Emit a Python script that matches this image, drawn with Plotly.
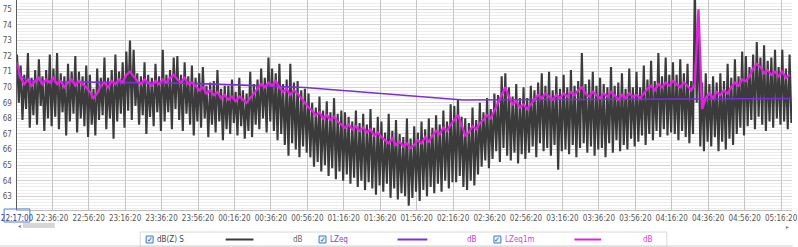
import plotly.graph_objects as go
import pandas as pd

START = pd.Timestamp("2024-01-01 22:17:00")

tick_labels = ["22:17:00", "22:36:20", "22:56:20", "23:16:20", "23:36:20", "23:56:20",
               "00:16:20", "00:36:20", "00:56:20", "01:16:20", "01:36:20", "01:56:20",
               "02:16:20", "02:36:20", "02:56:20", "03:16:20", "03:36:20", "03:56:20",
               "04:16:20", "04:36:20", "04:56:20", "05:16:20"]
y_ticks = list(range(63, 76))

# LZeq1m, one value every 2 minutes from 22:17:00
lzeq1m = [71.6, 70.6, 70.2, 70.5, 70.1, 70.4, 70.6, 70.2, 70.5, 70.3,
          70.6, 70.2, 70.4, 70.0, 70.3, 70.5, 70.1, 70.4, 70.2, 70.0,
          69.7, 69.3, 69.6, 70.1, 70.3, 70.0, 70.4, 70.2, 70.5, 70.3,
          70.8, 71.0, 70.7, 70.4, 70.2, 70.5, 70.3, 70.1, 70.4, 70.2,
          70.5, 70.3, 70.6, 70.8, 70.5, 70.3, 70.6, 70.2, 70.3, 70.1,
          69.8, 70.0, 69.6, 69.8, 69.5, 69.7, 69.3, 69.5, 69.2, 69.4,
          69.1, 69.4, 69.2, 69.0, 69.3, 69.6, 69.9, 70.2, 70.0, 70.3,
          70.1, 70.4, 70.0, 69.7, 69.9, 69.5, 69.8, 69.6, 69.3, 69.0,
          68.7, 68.5, 68.2, 68.4, 68.0, 68.2, 67.9, 68.1, 67.8, 67.6,
          67.4, 67.6, 67.3, 67.5, 67.2, 67.4, 67.1, 67.3, 66.9, 67.1,
          66.8, 66.6, 66.4, 66.7, 66.3, 66.5, 66.2, 66.4, 66.1, 66.3,
          66.6, 66.4, 66.8, 66.5, 66.9, 67.2, 67.0, 67.4, 67.2, 67.6,
          67.9, 68.2, 67.6, 66.9, 67.1, 67.5, 67.3, 67.7, 67.9, 68.2,
          68.0, 68.5, 69.0, 69.6, 70.0, 69.4, 68.9, 69.1, 68.7, 68.9,
          68.6, 68.9, 69.2, 69.5, 69.3, 69.6, 69.4, 69.2, 69.5, 69.3,
          69.6, 69.4, 69.7, 69.5, 69.8, 70.0, 69.6, 69.4, 69.7, 69.5,
          69.3, 69.6, 69.4, 69.7, 69.5, 69.2, 69.5, 69.3, 69.6, 69.4,
          69.5, 69.3, 69.6, 69.9, 70.1, 69.8, 70.2, 70.0, 70.3, 70.1,
          70.4, 70.2, 70.0, 70.3, 70.1, 69.8, 70.2, 75.0, 68.6, 69.3,
          69.6, 69.3, 69.7, 69.5, 69.8, 69.6, 70.0, 70.3, 70.1, 70.5,
          70.4, 70.7, 71.2, 71.5, 71.3, 70.9, 71.1, 70.8, 71.0, 70.7,
          71.0, 70.6, 70.8]

# dB(Z) S: local peaks (even minutes) and troughs (odd minutes)
dbz_peaks = [72.1, 71.4, 70.8, 72.2, 70.6, 71.1, 71.8, 70.7, 71.1, 72.1,
             71.2, 72.2, 70.9, 70.7, 71.5, 71.0, 72.0, 71.0, 70.7, 71.4,
             70.8, 69.9, 71.2, 70.6, 71.9, 70.6, 71.1, 72.1, 71.0, 71.6,
             72.3, 73.0, 72.4, 70.9, 70.7, 71.6, 70.8, 70.6, 71.5, 70.7,
             72.4, 70.8, 71.1, 71.9, 72.0, 70.8, 71.6, 70.7, 71.4, 70.6,
             70.9, 71.3, 70.1, 70.3, 70.4, 71.1, 69.9, 70.1, 70.1, 70.5,
             69.7, 70.6, 69.8, 69.6, 71.0, 70.2, 70.5, 71.2, 70.6, 71.9,
             71.2, 70.9, 71.5, 70.2, 70.5, 71.5, 70.3, 70.4, 69.8, 69.9,
             69.6, 69.0, 68.7, 69.4, 68.5, 69.1, 68.4, 69.3, 68.3, 68.5,
             68.4, 68.1, 67.8, 68.5, 67.7, 68.3, 67.6, 68.6, 67.4, 68.1,
             67.8, 67.1, 68.3, 67.2, 67.9, 67.0, 66.8, 68.0, 66.7, 67.5,
             67.1, 67.8, 67.3, 68.0, 67.4, 68.2, 67.6, 68.5, 67.8, 68.9,
             68.8, 69.2, 68.1, 68.0, 67.7, 68.7, 67.9, 69.0, 68.4, 69.3,
             68.6, 69.6, 69.5, 70.7, 70.9, 70.0, 69.4, 70.2, 69.3, 70.0,
             69.3, 70.1, 69.8, 70.3, 70.9, 70.1, 71.0, 69.8, 70.7, 69.9,
             70.8, 70.0, 71.1, 70.1, 70.4, 72.2, 70.2, 70.5, 71.0, 70.1,
             70.6, 70.2, 70.0, 71.3, 70.1, 70.3, 70.9, 69.9, 71.2, 70.0,
             71.0, 70.0, 71.4, 70.5, 71.7, 70.4, 72.2, 70.7, 71.9, 70.8,
             71.6, 70.8, 71.8, 70.9, 71.5, 70.4, 76.5, 74.0, 70.3, 70.9,
             70.2, 70.7, 70.3, 70.9, 70.4, 71.5, 70.6, 71.8, 70.7, 72.3,
             72.0, 71.3, 72.1, 72.9, 71.9, 72.7, 71.7, 71.9, 72.4, 71.3,
             72.4, 71.2, 72.1]
dbz_troughs = [69.0, 67.9, 68.6, 67.4, 68.2, 67.6, 68.8, 67.2, 68.0, 67.5,
               68.1, 67.3, 68.4, 66.9, 67.8, 68.3, 67.1, 68.0, 67.5, 66.8,
               67.6, 66.9, 67.9, 68.2, 67.3, 68.0, 66.7, 67.8, 68.3, 67.4,
               68.5, 67.9, 68.8, 67.6, 68.2, 67.0, 68.1, 67.5, 68.4, 67.2,
               67.8, 68.4, 67.3, 68.6, 67.9, 67.2, 68.3, 67.6, 66.9, 67.8,
               67.4, 68.0, 66.8, 67.6, 67.1, 67.8, 66.6, 67.3, 67.0, 67.7,
               66.9, 67.5, 66.7, 67.2, 66.8, 67.6, 67.3, 68.0, 67.1, 67.8,
               67.2, 66.6, 67.0, 66.3, 65.6, 66.4, 66.0, 65.5, 66.2, 65.8,
               65.5, 64.9, 65.2, 64.6, 65.0, 64.3, 64.8, 64.1, 64.6, 64.0,
               64.4, 63.8, 64.2, 63.6, 64.0, 63.4, 63.9, 63.5, 63.1, 63.7,
               63.3, 63.8, 62.9, 63.5, 62.8, 63.2, 63.0, 62.4, 62.9, 63.3,
               62.7, 63.4, 63.0, 63.6, 63.2, 63.8, 63.3, 64.0, 63.5, 63.9,
               63.9, 64.3, 63.6, 63.4, 64.0, 63.7, 64.4, 64.9, 65.3, 64.8,
               65.4, 65.9, 65.2, 66.1, 65.6, 65.3, 65.8, 65.1, 65.7, 65.4,
               65.8, 66.2, 65.5, 66.4, 65.9, 66.1, 65.6, 66.3, 64.7, 65.9,
               66.0, 65.7, 66.3, 65.5, 66.1, 66.4, 65.8, 66.2, 65.6, 66.0,
               66.1, 65.5, 66.4, 65.8, 66.6, 65.9, 66.3, 66.0, 66.7, 66.2,
               66.5, 66.9, 66.3, 67.0, 66.6, 67.2, 66.8, 67.3, 66.9, 67.1,
               67.0, 66.6, 67.2, 66.8, 66.4, 67.0, 69.0, 66.2, 65.9, 66.5,
               66.2, 66.8, 65.9, 66.5, 66.0, 66.7, 66.3, 67.0, 67.4, 66.9,
               67.5, 67.9, 67.3, 68.1, 67.6, 67.2, 67.8, 67.4, 68.0, 67.6,
               67.8, 67.3, 67.7]

# LZeq (cumulative), sparse readings
lzeq_minutes = [0, 5, 20, 45, 70, 95, 120, 140, 158, 245, 280, 320, 360, 400, 425]
lzeq_values = [70.9, 70.45, 70.35, 70.32, 70.3, 70.25, 70.15, 70.05, 69.98,
               69.18, 69.2, 69.22, 69.24, 69.26, 69.28]

# ---------------- build -----------------
def t_of(minutes):
    return [START + pd.Timedelta(minutes=m) for m in minutes]

dbz_vals = []
for p, q in zip(dbz_peaks, dbz_troughs):
    dbz_vals += [p, q]
dbz_t = t_of(range(len(dbz_vals)))
m1_t = t_of([2 * i for i in range(len(lzeq1m))])
lzeq_t = t_of(lzeq_minutes)

def tick_dt(lbl):
    h, m, s = map(int, lbl.split(":"))
    day = pd.Timestamp("2024-01-01") if h >= 12 else pd.Timestamp("2024-01-02")
    return day + pd.Timedelta(hours=h, minutes=m, seconds=s)

tick_vals = [tick_dt(l) for l in tick_labels]
tick_text = ['<span style="color:#1d3b8f">%s</span>' % tick_labels[0]] + tick_labels[1:]

C_DARK = "#3b3b3b"
C_PURP = "#7b2fd8"
C_MAG = "#e41ee4"
FONT = "Liberation Sans Narrow, DejaVu Sans Condensed, Arial Narrow, sans-serif"

fig = go.Figure()
fig.add_trace(go.Scatter(x=dbz_t, y=dbz_vals, mode="lines",
                         line=dict(color=C_DARK, width=2.1), name="dB(Z) S"))
fig.add_trace(go.Scatter(x=lzeq_t, y=lzeq_values, mode="lines",
                         line=dict(color=C_PURP, width=1.6), name="LZeq"))
fig.add_trace(go.Scatter(x=m1_t, y=lzeq1m, mode="lines",
                         line=dict(color=C_MAG, width=2.3), name="LZeq1m"))

W, H = 798, 247
L, R, T, B = 17, 797, 0, 210

def px(x):
    return (x - L) / (R - L)

def py(y):
    return (B - y) / (B - T)

shapes = []
annos = []

# first tick highlight box
shapes.append(dict(type="rect", xref="paper", yref="paper", x0=px(4), x1=px(30),
                   y0=py(222), y1=py(209), line=dict(color="#4a7fd4", width=1)))
# scrollbar
shapes.append(dict(type="rect", xref="paper", yref="paper", x0=px(23), x1=px(55),
                   y0=py(228), y1=py(223), fillcolor="#d6d6d6", line=dict(width=0)))
annos.append(dict(xref="paper", yref="paper", x=px(20), y=py(225), text="◂",
                  showarrow=False, font=dict(size=6, color="#777"), xanchor="center", yanchor="middle"))
annos.append(dict(xref="paper", yref="paper", x=px(792), y=py(226), text="▸",
                  showarrow=False, font=dict(size=6, color="#777"), xanchor="center", yanchor="middle"))
# legend box
shapes.append(dict(type="rect", xref="paper", yref="paper", x0=px(141), x1=px(671),
                   y0=py(247), y1=py(232), fillcolor="white", line=dict(color="#d8d8d8", width=1)))
shapes.append(dict(type="line", xref="paper", yref="paper", x0=px(0), x1=px(798),
                   y0=py(246), y1=py(246), line=dict(color="#d0d0d0", width=1)))

legend_items = [
    (147, "dB(Z) S", "#444444", 227, 255, C_DARK, 293, "#666666"),
    (321, "LZeq", "#8a3ce0", 400, 430, C_PURP, 468, "#c03cd8"),
    (497, "LZeq1m", "#e03ce0", 578, 605, C_MAG, 645, "#e03ce0"),
]
for cb, txt, tcol, lx0, lx1, lcol, dbx, dbcol in legend_items:
    shapes.append(dict(type="rect", xref="paper", yref="paper", x0=px(cb), x1=px(cb + 7),
                       y0=py(243), y1=py(236), fillcolor="#eaf2fb",
                       line=dict(color="#3b78c8", width=1)))
    annos.append(dict(xref="paper", yref="paper", x=px(cb + 3.5), y=py(239.5), text="✓",
                      showarrow=False, font=dict(size=7, color="#1f4f9a", family="DejaVu Sans"),
                      xanchor="center", yanchor="middle"))
    annos.append(dict(xref="paper", yref="paper", x=px(cb + 9), y=py(239.5), text=txt,
                      showarrow=False, font=dict(size=8, color=tcol, family=FONT),
                      xanchor="left", yanchor="middle"))
    shapes.append(dict(type="line", xref="paper", yref="paper", x0=px(lx0), x1=px(lx1),
                       y0=py(239.5), y1=py(239.5), line=dict(color=lcol, width=2)))
    annos.append(dict(xref="paper", yref="paper", x=px(dbx), y=py(239.5), text="dB",
                      showarrow=False, font=dict(size=8, color=dbcol, family=FONT),
                      xanchor="left", yanchor="middle"))

fig.update_layout(
    width=W, height=H,
    margin=dict(l=L, r=W - R, t=T, b=H - B),
    paper_bgcolor="white", plot_bgcolor="white",
    showlegend=False, hovermode=False,
    font=dict(family=FONT, size=8, color="#555555"),
    shapes=shapes, annotations=annos,
)
fig.update_xaxes(
    type="date",
    range=[START, START + pd.Timedelta(minutes=425.33)],
    tickmode="array", tickvals=tick_vals, ticktext=tick_text,
    showgrid=True, gridcolor="#c4c4c4", gridwidth=1,
    showline=True, linecolor="#bdbdbd", linewidth=1,
    ticks="", tickfont=dict(size=8, color="#555555"),
    ticklabeloverflow="allow",
    zeroline=False, fixedrange=True,
)
fig.update_yaxes(
    range=[62.12, 75.6],
    tickmode="array", tickvals=y_ticks, ticktext=[str(v) for v in y_ticks],
    showgrid=True, gridcolor="#d2d2d2", gridwidth=1,
    minor=dict(dtick=0.2, showgrid=True, gridcolor="#ececec", gridwidth=1),
    showline=True, linecolor="#5a5a5a", linewidth=1.5,
    ticks="", tickfont=dict(size=8, color="#555555"), ticklabelstandoff=2,
    zeroline=False, fixedrange=True,
)

fig.write_html("out.html", config={"displayModeBar": False, "staticPlot": True})
